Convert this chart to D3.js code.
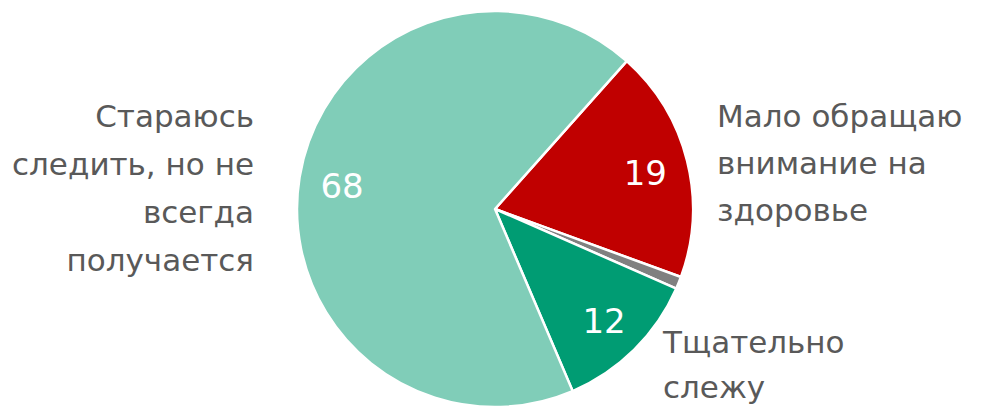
<!DOCTYPE html>
<html>

<head>
    <style>
        body { margin: 0; background: #fff; }
        .cat {
            font-size: 31px;
            font-family: "DejaVu Sans", sans-serif;
            fill: #595959;
        }
        .val {
            font-size: 34px;
            font-family: "DejaVu Sans", sans-serif;
            fill: #fff;
        }
    </style>
    <script src="https://cdn.jsdelivr.net/npm/d3@7"></script>
</head>

<body>
    <script>
        const categories = ["Мало обращаю внимание на здоровье", "Нет ответа", "Тщательно слежу", "Стараюсь следить, но не всегда получается"];
        const values = [19, 1, 12, 68];
        const colors = ["#c00000", "#808080", "#009c73", "#80cdb8"];
        const shownLabels = ["19", "", "12", "68"];

        const w = 992;
        const h = 407;
        const cx = 495, cy = 209, r = 198;

        const svg = d3.select("body")
            .append("svg")
            .attr("width", w)
            .attr("height", h);

        const pie = d3.pie()
            .sort(null)
            .value((d) => d)
            .startAngle(41.7 * Math.PI / 180)
            .endAngle(41.7 * Math.PI / 180 + 2 * Math.PI);

        const arcs = pie(values);
        const arc = d3.arc().innerRadius(0).outerRadius(r);
        const labelArc = d3.arc().innerRadius(155).outerRadius(155);

        const g = svg.append("g")
            .attr("transform", "translate(" + cx + "," + cy + ")");

        g.selectAll("path")
            .data(arcs)
            .enter()
            .append("path")
            .attr("d", arc)
            .attr("fill", (d, i) => colors[i])
            .attr("stroke", "#fff")
            .attr("stroke-width", 2.5)
            .attr("stroke-linejoin", "round");

        g.selectAll("text.val")
            .data(arcs)
            .enter()
            .append("text")
            .attr("class", "val")
            .attr("text-anchor", "middle")
            .attr("dy", "0.4em")
            .attr("transform", (d) => "translate(" + labelArc.centroid(d) + ")")
            .text((d, i) => shownLabels[i]);

        // category labels outside the pie
        const catLines = [
            { lines: ["Мало обращаю", "внимание на", "здоровье"], x: 717, y: 127, anchor: "start", dy: 47 },
            { lines: ["Тщательно", "слежу"], x: 663, y: 353, anchor: "start", dy: 45 },
            { lines: ["Стараюсь", "следить, но не", "всегда", "получается"], x: 254, y: 127, anchor: "end", dy: 48 }
        ];

        catLines.forEach((c) => {
            const t = svg.append("text")
                .attr("class", "cat")
                .attr("text-anchor", c.anchor);
            c.lines.forEach((s, i) => {
                t.append("tspan")
                    .attr("x", c.x)
                    .attr("y", c.y + i * c.dy)
                    .text(s);
            });
        });
    </script>
</body>

</html>
